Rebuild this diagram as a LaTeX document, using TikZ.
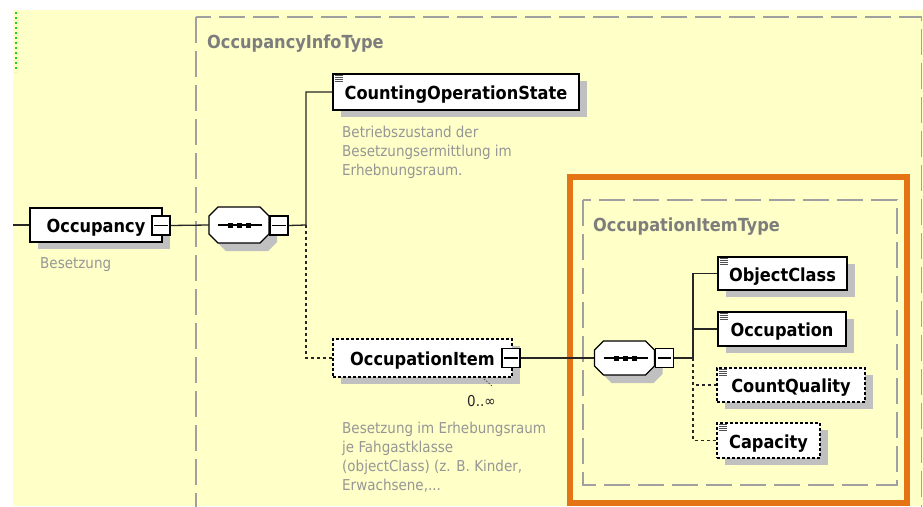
\documentclass[tikz,border=0pt]{standalone}
\usepackage{fontspec}
\setmainfont{DejaVu Sans Condensed}
\usetikzlibrary{shadows}

\definecolor{bgyellow}{RGB}{255,255,200}
\definecolor{boxgray}{RGB}{160,160,160}
\definecolor{titlegray}{RGB}{125,125,125}
\definecolor{descgray}{RGB}{150,150,150}
\definecolor{shadowgray}{RGB}{192,192,192}
\definecolor{hiorange}{RGB}{228,116,20}
\definecolor{guidegreen}{RGB}{30,210,30}
\definecolor{icongray}{RGB}{80,80,80}

\tikzset{
  typebox/.style={draw=boxgray, line width=1.2pt, dash pattern=on 26pt off 8pt},
  typetitle/.style={anchor=base west, text=titlegray, inner sep=0pt,
    font=\fontsize{18}{20}\selectfont\bfseries},
  elem/.style={draw=black, fill=white, line width=1.3pt, inner sep=0pt,
    text height=17pt, text depth=2pt, font=\fontsize{18}{20}\selectfont\bfseries,
    drop shadow={shadow xshift=8pt, shadow yshift=-7pt, fill=shadowgray, opacity=1}},
  optelem/.style={elem, dash pattern=on 3pt off 2pt},
  minusbox/.style={draw=black, fill=white, line width=1.1pt, minimum width=18pt,
    minimum height=19pt, inner sep=0pt},
  minusbar/.style={line width=1.1pt},
  conn/.style={draw=black!85, line width=1.3pt},
  optconn/.style={conn, dash pattern=on 3pt off 3pt},
  desc/.style={align=left, text=descgray, inner sep=0pt,
    font=\fontsize{15}{19}\selectfont},
}

% sequence compositor: #1 name, (#2,#3) centre, #4 half height
\newcommand\seqcomp[4]{%
  \begin{scope}[shift={(#2,#3)}]
    \fill[shadowgray, shift={(8,8)}] (-21,-#4) -- (21,-#4) -- (30,-#4+9) -- (30,#4-9)
      -- (21,#4) -- (-21,#4) -- (-30,#4-9) -- (-30,-#4+9) -- cycle;
    \path[fill=white, draw=black, line width=1.3pt] (-21,-#4) -- (21,-#4) -- (30,-#4+9)
      -- (30,#4-9) -- (21,#4) -- (-21,#4) -- (-30,#4-9) -- (-30,-#4+9) -- cycle;
    \node[inner sep=0pt, minimum width=60pt, minimum height={2*#4pt}] (#1) at (0,0) {};
    \draw[line width=1.2pt] (-21,0) -- (23,0);
    \fill (-11,-2.5) rectangle (-6,2.5);
    \fill (-2,-2.5) rectangle (3,2.5);
    \fill (7,-2.5) rectangle (12,2.5);
  \end{scope}}

% small "simple content" glyph in the top left corner of an element box
\newcommand\elicon[1]{%
  \foreach \k in {0,1,2,3}
    \draw[icongray, line width=0.9pt]
      ([xshift=3pt, yshift={-(2.5+2*\k)*1pt}]#1.north west) -- ++(8,0);}

% collapse button drawn on the right of a box
\newcommand\minus[3]{%
  \node[minusbox] (#1) at (#2,#3) {};
  \draw[minusbar] ([xshift=3pt]#1.west) -- ([xshift=-3pt]#1.east);}

\begin{document}
\begin{tikzpicture}[x=1pt, y=-1pt]
  \clip (0,0) rectangle (923,506);
  \fill[white] (0,0) rectangle (923,506);
  \fill[bgyellow] (13,10) rectangle (923,506);
  \draw[guidegreen, line width=1.2pt, dash pattern=on 2pt off 3pt] (16,12) -- (16,72);

  % complex type frames
  \draw[typebox] (196,17) rectangle (921.5,540);
  \node[typetitle] (infotitle) at (207,48) {OccupancyInfoType};
  \draw[hiorange, line width=6pt] (570,177) rectangle (907,503);
  \draw[typebox] (583,200) rectangle (897,485);
  \node[typetitle] (itemtitle) at (593,231) {OccupationItemType};

  % root element
  \coordinate (entry) at (13,225);
  \node[elem, minimum width=132pt, minimum height=34pt] (occ) at (96,225) {Occupancy};
  \minus{occm}{161}{225.5}
  \node[desc, anchor=base west] (occdesc) at (40,268) {Besetzung};

  % first sequence
  \seqcomp{seqa}{239}{225}{18}
  \minus{seqam}{279}{225.5}
  \coordinate (trunka) at (306,225);

  \node[elem, minimum width=246pt, minimum height=36pt] (cos) at (456,92) {CountingOperationState};
  \elicon{cos}
  \node[desc, anchor=base west] (cosdesc) at (342,175)
    {Betriebszustand der\\Besetzungsermittlung im\\Erhebnungsraum.};

  \node[optelem, minimum width=179pt, minimum height=38pt] (item) at (422.5,358) {OccupationItem};
  \minus{itemm}{511}{358}
  \draw[black!70, line width=0.8pt, dash pattern=on 1.5pt off 1.5pt] (484,379) -- (492,386);
  \node[anchor=base west, inner sep=0pt, text=black!85, font=\fontsize{15}{18}\selectfont]
    (itemocc) at (467,406) {0..∞};
  \node[desc, anchor=base west] (itemdesc) at (342,490)
    {Besetzung im Erhebungsraum\\je Fahgastklasse\\(objectClass) (z. B. Kinder,\\Erwachsene,...};

  % second sequence
  \seqcomp{seqb}{624.5}{358}{17}
  \minus{seqbm}{664.5}{358}
  \coordinate (trunkb) at (693,358);

  \node[elem, minimum width=129pt, minimum height=33pt] (objcls) at (782.5,273.5) {ObjectClass};
  \elicon{objcls}
  \node[elem, minimum width=128pt, minimum height=34pt] (occup) at (782,329) {Occupation};
  \elicon{occup}
  \node[optelem, minimum width=148pt, minimum height=34pt] (cntq) at (791,385) {CountQuality};
  \elicon{cntq}
  \node[optelem, minimum width=103pt, minimum height=35pt] (capa) at (768.5,440.5) {Capacity};
  \elicon{capa}

  % connectors
  \draw[conn] (entry) -- (occ.west);
  \draw[conn] (occm.east) -- (seqa.west);
  \draw[conn] (seqam.east) -- (trunka) |- (cos.west);
  \draw[optconn] (trunka) |- (item.west);
  \draw[conn] (itemm.east) -- (seqb.west);
  \draw[conn] (seqbm.east) -- (trunkb) |- (objcls.west);
  \draw[conn] (trunkb) |- (occup.west);
  \draw[optconn] (trunkb) |- (cntq.west);
  \draw[optconn] (trunkb) |- (capa.west);
\end{tikzpicture}
\end{document}
